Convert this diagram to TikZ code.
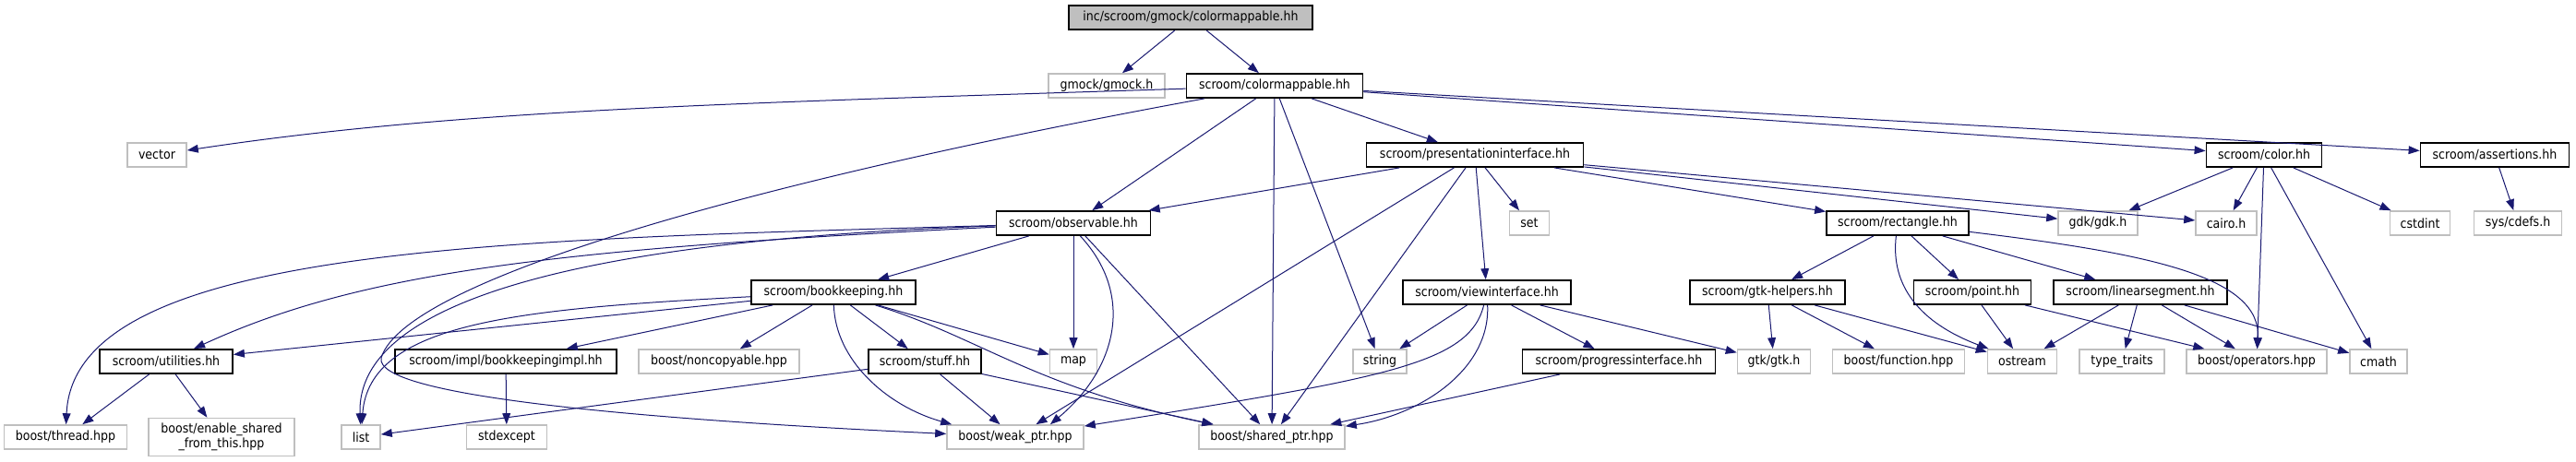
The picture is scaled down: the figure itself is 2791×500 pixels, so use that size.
\documentclass[tikz,border=0pt]{standalone}
\usepackage{fontspec}
\setmainfont{DejaVu Sans Condensed}
\usepackage{tikz}
\usetikzlibrary{arrows.meta}

\definecolor{edgeblue}{HTML}{191970}
\definecolor{boxgray}{HTML}{BFBFBF}

\begin{document}
\begin{tikzpicture}[
    x=0.5pt, y=-0.5pt,
    file/.style={
      rectangle, draw=black, line width=0.9pt, fill=white,
      minimum height=13pt, inner sep=1pt,
      font=\fontsize{7}{8}\selectfont, align=center
    },
    ext/.style={file, draw=boxgray, line width=0.8pt},
    root/.style={file, fill=boxgray},
    dep/.style={-{Triangle[length=6pt, width=4.4pt]}, draw=edgeblue, line width=0.5pt},
  ]
  \useasboundingbox (0,0) rectangle (2791,500);

  % row 1 and 2
  \node[root, minimum width=132pt] (top) at (1290,19) {inc/scroom/gmock/colormappable.hh};
  \node[ext, minimum width=63pt] (gmock) at (1199,93) {gmock/gmock.h};
  \node[file, minimum width=95.5pt] (cmap) at (1381,93) {scroom/colormappable.hh};

  % row 3
  \node[ext, minimum width=32pt] (vector) at (170,168) {vector};
  \node[file, minimum width=117.5pt] (pres) at (1598,168) {scroom/presentationinterface.hh};
  \node[file, minimum width=62.5pt] (color) at (2453,168) {scroom/color.hh};
  \node[file, minimum width=80.5pt] (assert) at (2703,168) {scroom/assertions.hh};

  % row 4
  \node[file, minimum width=83.5pt] (observ) at (1163,242) {scroom/observable.hh};
  \node[ext, minimum width=21.5pt] (set) at (1657,242) {set};
  \node[file, minimum width=77pt] (rect) at (2056,242) {scroom/rectangle.hh};
  \node[ext, minimum width=43pt] (gdk) at (2273,242) {gdk/gdk.h};
  \node[ext, minimum width=33pt] (cairo) at (2412,242) {cairo.h};
  \node[ext, minimum width=32.5pt] (cstdint) at (2622,242) {cstdint};
  \node[ext, minimum width=47.5pt] (cdefs) at (2728,242) {sys/cdefs.h};

  % row 5
  \node[file, minimum width=89pt] (bookk) at (903,317) {scroom/bookkeeping.hh};
  \node[file, minimum width=91pt] (view) at (1611,317) {scroom/viewinterface.hh};
  \node[file, minimum width=84pt] (gtkh) at (1915,317) {scroom/gtk-helpers.hh};
  \node[file, minimum width=63.5pt] (point) at (2137,317) {scroom/point.hh};
  \node[file, minimum width=94pt] (lseg) at (2319,317) {scroom/linearsegment.hh};

  % row 6
  \node[file, minimum width=72pt] (util) at (180,392) {scroom/utilities.hh};
  \node[file, minimum width=120pt] (bkimpl) at (548,392) {scroom/impl/bookkeepingimpl.hh};
  \node[ext, minimum width=87pt] (noncp) at (779,392) {boost/noncopyable.hpp};
  \node[file, minimum width=61pt] (stuff) at (1002,392) {scroom/stuff.hh};
  \node[ext, minimum width=25.5pt] (map) at (1163,392) {map};
  \node[ext, minimum width=29pt] (string) at (1495,392) {string};
  \node[file, minimum width=104.5pt] (prog) at (1754,392) {scroom/progressinterface.hh};
  \node[ext, minimum width=39.5pt] (gtk) at (1922,392) {gtk/gtk.h};
  \node[ext, minimum width=71.5pt] (func) at (2057,392) {boost/function.hpp};
  \node[ext, minimum width=37.5pt] (ostream) at (2191,392) {ostream};
  \node[ext, minimum width=46pt] (ttraits) at (2299,392) {type\_traits};
  \node[ext, minimum width=76pt] (ops) at (2445,392) {boost/operators.hpp};
  \node[ext, minimum width=31pt] (cmath) at (2577,392) {cmath};

  % row 7
  \node[ext, minimum width=66.5pt] (thread) at (71,474) {boost/thread.hpp};
  \node[ext, minimum width=79pt, minimum height=20.5pt] (esft) at (240,474) {boost/enable\_shared\\\_from\_this.hpp};
  \node[ext, minimum width=21pt] (list) at (391,474) {list};
  \node[ext, minimum width=43.5pt] (stdexc) at (549,474) {stdexcept};
  \node[ext, minimum width=74pt] (weak) at (1100,474) {boost/weak\_ptr.hpp};
  \node[ext, minimum width=79pt] (shared) at (1378,474) {boost/shared\_ptr.hpp};

  % includes
  \draw[dep] (top) -- (gmock);
  \draw[dep] (top) -- (cmap);

  \draw[dep] (cmap) .. controls (800,112) and (500,118) .. (vector);
  \draw[dep] (cmap) .. controls (850,190) and (440,300) .. (413,388)
                    .. controls (405,430) and (700,455) .. (weak);
  \draw[dep] (cmap) -- (observ);
  \draw[dep] (cmap) -- (shared);
  \draw[dep] (cmap) -- (string);
  \draw[dep] (cmap) -- (pres);
  \draw[dep] (cmap) -- (color);
  \draw[dep] (cmap) -- (assert);

  \draw[dep] (pres) -- (observ);
  \draw[dep] (pres) -- (weak);
  \draw[dep] (pres) -- (shared);
  \draw[dep] (pres) -- (view);
  \draw[dep] (pres) -- (set);
  \draw[dep] (pres) -- (cairo);
  \draw[dep] (pres) -- (gdk);
  \draw[dep] (pres) -- (rect);

  \draw[dep] (color) -- (gdk);
  \draw[dep] (color) -- (cairo);
  \draw[dep] (color) -- (ops);
  \draw[dep] (color) -- (cmath);
  \draw[dep] (color) -- (cstdint);
  \draw[dep] (assert) -- (cdefs);

  \draw[dep] (observ) .. controls (550,260) and (80,265) .. (thread);
  \draw[dep] (observ) .. controls (600,270) and (390,295) .. (util);
  \draw[dep] (observ) .. controls (700,258) and (385,310) .. (list);
  \draw[dep] (observ) -- (bookk);
  \draw[dep] (observ) -- (map);
  \draw[dep] (observ.-62) .. controls (1230,320) and (1210,400) .. (weak.20);
  \draw[dep] (observ) -- (shared);

  \draw[dep] (bookk) -- (util);
  \draw[dep] (bookk) .. controls (560,335) and (400,350) .. (list);
  \draw[dep] (bookk) -- (bkimpl);
  \draw[dep] (bookk) -- (noncp);
  \draw[dep] (bookk) -- (stuff);
  \draw[dep] (bookk) -- (map);
  \draw[dep] (bookk) .. controls (905,390) and (960,440) .. ([xshift=3pt]weak.north west);
  \draw[dep] (bookk) .. controls (1060,365) and (1120,420) .. ([xshift=8pt]shared.north west);

  \draw[dep] (stuff) -- (list);
  \draw[dep] (stuff) -- (weak);
  \draw[dep] (stuff) -- (shared);

  \draw[dep] (util) -- (thread);
  \draw[dep] (util) -- (esft);
  \draw[dep] (bkimpl) -- (stdexc);

  \draw[dep] (view) -- (string);
  \draw[dep] (view) -- (prog);
  \draw[dep] (view) -- (gtk);
  \draw[dep] (view) .. controls (1592,395) and (1500,410) .. (weak);
  \draw[dep] (view) .. controls (1615,400) and (1540,450) .. (shared);
  \draw[dep] (prog) -- (shared);

  \draw[dep] (rect) -- (gtkh);
  \draw[dep] (rect) .. controls (2048,310) and (2080,350) .. (ostream);
  \draw[dep] (rect) -- (point);
  \draw[dep] (rect) -- (lseg);
  \draw[dep] (rect) .. controls (2330,275) and (2450,300) .. (ops);

  \draw[dep] (gtkh) -- (gtk);
  \draw[dep] (gtkh) -- (func);
  \draw[dep] (gtkh) -- (ostream);
  \draw[dep] (point) -- (ostream);
  \draw[dep] (point) -- (ops);
  \draw[dep] (lseg) -- (ostream);
  \draw[dep] (lseg) -- (ttraits);
  \draw[dep] (lseg) -- (ops);
  \draw[dep] (lseg) -- (cmath);
\end{tikzpicture}
\end{document}
